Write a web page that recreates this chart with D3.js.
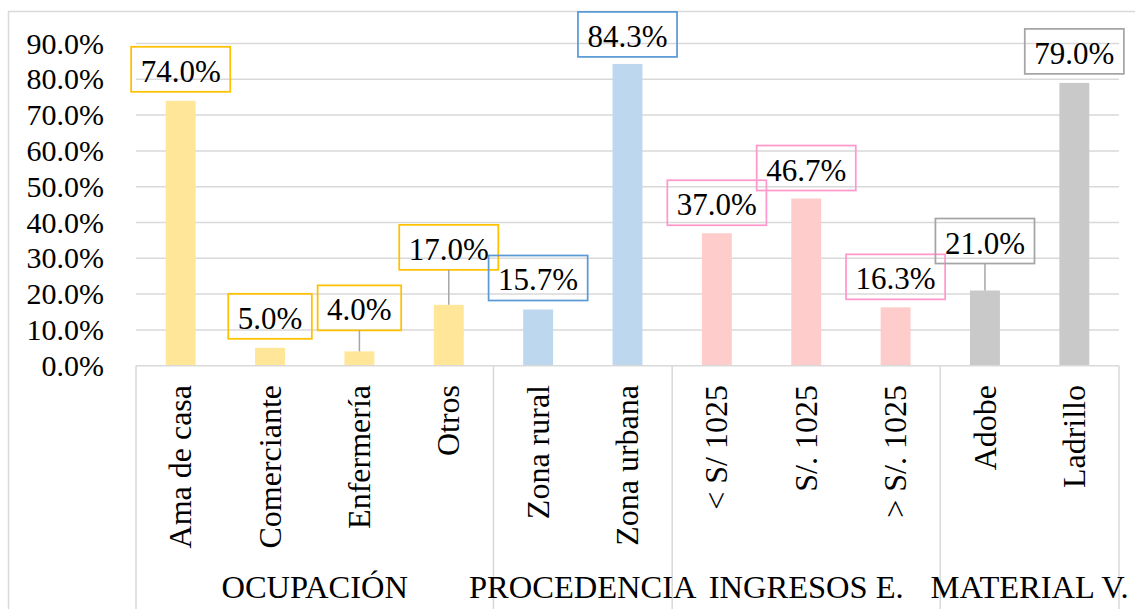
<!DOCTYPE html>
<html>
<head>
<meta charset="utf-8">
<script src="https://cdn.jsdelivr.net/npm/d3@7"></script>
<style>
  html, body { margin: 0; padding: 0; background: #fff; }
  svg { display: block; }
  svg text { font-family: "Liberation Serif", "Times New Roman", Times, "DejaVu Serif", serif; }
</style>
</head>
<body>
<div id="chart"></div>
<script>
// data
const categories = ["Ama de casa", "Comerciante", "Enfermería", "Otros", "Zona rural", "Zona urbana",
                    "< S/ 1025", "S/. 1025", "> S/. 1025", "Adobe", "Ladrillo"];
const values = [74.0, 5.0, 4.0, 17.0, 15.7, 84.3, 37.0, 46.7, 16.3, 21.0, 79.0];
const groupNames = ["OCUPACIÓN", "PROCEDENCIA", "INGRESOS E.", "MATERIAL V."];
const groupSizes = [4, 2, 3, 2];
const yTicks = [0, 10, 20, 30, 40, 50, 60, 70, 80, 90];

// look
const barColors = ["#FFE699", "#BDD7EE", "#FFCCCC", "#C9C9C9"];
const boxColors = ["#FFC000", "#5B9BD5", "#FF99CC", "#A5A5A5"];
const labelGap = [9, 9, 21, 35, 9, 7, 8, 8, 8, 27, 9]; // callouts dragged up in the original

const W = 1135, H = 609;
const plot = { left: 136, right: 1119, top: 43.5, bottom: 365.7 };
const FONT = "'Liberation Serif', 'Times New Roman', Times, 'DejaVu Serif', serif";

const groupOf = [];
groupSizes.forEach((n, g) => { for (let i = 0; i < n; i++) groupOf.push(g); });

const svg = d3.select("#chart").append("svg")
    .attr("width", W).attr("height", H)
    .attr("font-family", FONT);

// outer chart border
svg.append("rect")
    .attr("x", 8.5).attr("y", 11.5)
    .attr("width", W + 20).attr("height", H + 20)
    .attr("fill", "none").attr("stroke", "#D9D9D9").attr("stroke-width", 1.5);

const x = d3.scaleBand().domain(categories)
    .range([plot.left, plot.right]).paddingInner(0.665).paddingOuter(0.3325);
const step = x.step();
const y = d3.scaleLinear().domain([0, 90]).range([plot.bottom, plot.top]);

// gridlines
svg.append("g").selectAll("line").data(yTicks.slice(1)).join("line")
    .attr("x1", plot.left).attr("x2", plot.right)
    .attr("y1", d => y(d)).attr("y2", d => y(d))
    .attr("stroke", "#D9D9D9").attr("stroke-width", 1.5);

// y axis labels
const yAxis = svg.append("g")
    .attr("transform", `translate(${plot.left},0)`)
    .call(d3.axisLeft(y).tickValues(yTicks).tickFormat(d => d.toFixed(1) + "%").tickSize(0).tickPadding(32))
    .attr("font-family", FONT).attr("font-size", 30);
yAxis.select(".domain").remove();
yAxis.selectAll("text").attr("fill", "#000");

// bars
svg.append("g").selectAll("rect").data(categories).join("rect")
    .attr("x", d => x(d))
    .attr("width", x.bandwidth())
    .attr("y", (d, i) => y(values[i]))
    .attr("height", (d, i) => y(0) - y(values[i]))
    .attr("fill", (d, i) => barColors[groupOf[i]]);

// category axis line + group separators
svg.append("line")
    .attr("x1", plot.left).attr("x2", plot.right)
    .attr("y1", y(0)).attr("y2", y(0))
    .attr("stroke", "#D9D9D9").attr("stroke-width", 1.5);

const bounds = [0];
groupSizes.forEach(n => bounds.push(bounds[bounds.length - 1] + n));
svg.append("g").selectAll("line").data(bounds).join("line")
    .attr("x1", d => plot.left + d * step).attr("x2", d => plot.left + d * step)
    .attr("y1", y(0)).attr("y2", H)
    .attr("stroke", "#D9D9D9").attr("stroke-width", 1.5);

// rotated category labels
svg.append("g").selectAll("text").data(categories).join("text")
    .attr("transform", d => `translate(${x(d) + x.bandwidth() / 2},385) rotate(-90)`)
    .attr("text-anchor", "end")
    .attr("dy", "0.33em")
    .attr("font-size", 32)
    .text(d => d);

// group labels
svg.append("g").selectAll("text").data(groupNames).join("text")
    .attr("x", (d, g) => plot.left + (bounds[g] + bounds[g + 1]) / 2 * step)
    .attr("y", 598)
    .attr("text-anchor", "middle")
    .attr("font-size", 32.5)
    .text(d => d);

// data label callouts
const labels = svg.append("g");
categories.forEach((c, i) => {
    const cx = x(c) + x.bandwidth() / 2;
    const barTop = y(values[i]);
    const bottom = barTop - labelGap[i];
    const t = labels.append("text")
        .attr("x", cx).attr("y", bottom - 10)
        .attr("text-anchor", "middle")
        .attr("font-size", 31)
        .text(values[i].toFixed(1) + "%");
    const w = t.node().getComputedTextLength() + 19;
    labels.insert("rect", "text")
        .attr("x", cx - w / 2).attr("y", bottom - 45)
        .attr("width", w).attr("height", 45)
        .attr("fill", "none")
        .attr("stroke", boxColors[groupOf[i]]).attr("stroke-width", 1.75);
    if (labelGap[i] > 15) {
        labels.append("line")
            .attr("x1", cx).attr("x2", cx)
            .attr("y1", bottom).attr("y2", barTop)
            .attr("stroke", "#A6A6A6").attr("stroke-width", 1.5);
    }
});
</script>
</body>
</html>
